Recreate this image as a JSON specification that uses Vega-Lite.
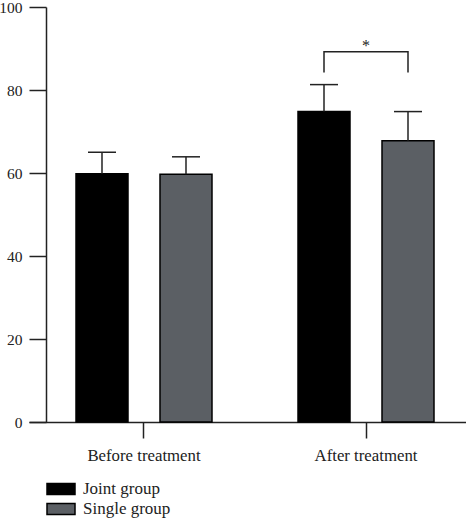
{
  "$schema": "https://vega.github.io/schema/vega-lite/v6.json",
  "width": 437,
  "height": 415,
  "autosize": {"type": "none"},
  "padding": {"left": 29, "top": 7, "right": 0, "bottom": 96},
  "background": "white",
  "config": {
    "view": {"stroke": null},
    "font": "Liberation Serif",
    "axis": {
      "domainColor": "#222",
      "tickColor": "#222",
      "domainWidth": 1.5,
      "tickWidth": 1.5,
      "labelColor": "#222",
      "labelFont": "Liberation Serif",
      "grid": false,
      "title": null
    }
  },
  "datasets": {
    "bars": [
      {"Period": "Before treatment", "Group": "Joint group", "value": 59.8, "upper": 65.0},
      {"Period": "Before treatment", "Group": "Single group", "value": 59.7, "upper": 63.9},
      {"Period": "After treatment", "Group": "Joint group", "value": 74.8, "upper": 81.3},
      {"Period": "After treatment", "Group": "Single group", "value": 67.8, "upper": 74.8}
    ],
    "bracket": [
      {"Period": "After treatment", "Group": "Joint group", "y": 84.2, "o": 1},
      {"Period": "After treatment", "Group": "Joint group", "y": 89.2, "o": 2},
      {"Period": "After treatment", "Group": "Single group", "y": 89.2, "o": 3},
      {"Period": "After treatment", "Group": "Single group", "y": 84.2, "o": 4}
    ],
    "star": [
      {"Period": "After treatment", "y": 89.2, "label": "*"}
    ]
  },
  "encoding": {
    "x": {
      "field": "Period",
      "type": "nominal",
      "sort": ["Before treatment", "After treatment"],
      "scale": {"range": [0, 452], "paddingInner": 0, "paddingOuter": 0.018},
      "axis": {"labelAngle": 0, "tickSize": 16, "labelPadding": 9, "labelFontSize": 16.8}
    }
  },
  "layer": [
    {
      "data": {"name": "bars"},
      "mark": {"type": "bar", "stroke": "#000", "strokeWidth": 1.5},
      "encoding": {
        "xOffset": {"field": "Group", "type": "nominal", "sort": ["Joint group", "Single group"], "scale": {"paddingInner": 0.381, "paddingOuter": 0.512}},
        "y": {
          "field": "value",
          "type": "quantitative",
          "scale": {"domain": [0, 100], "nice": false},
          "axis": {"values": [0, 20, 40, 60, 80, 100], "offset": -17, "tickSize": 17, "labelPadding": 7, "labelFontSize": 15.5}
        },
        "color": {
          "field": "Group",
          "type": "nominal",
          "scale": {"domain": ["Joint group", "Single group"], "range": ["#000000", "#5b5f64"]},
          "legend": {
            "title": null,
            "orient": "none",
            "legendX": 21,
            "legendY": 471,
            "padding": 0,
            "symbolType": "M-1.4,-0.55H1.4V0.55H-1.4Z",
            "symbolSize": 400,
            "symbolStrokeColor": "#000",
            "symbolStrokeWidth": 1.5,
            "symbolOpacity": 1,
            "labelFont": "Liberation Serif",
            "labelFontSize": 17,
            "labelColor": "#222",
            "labelOffset": 11,
            "rowPadding": 0
          }
        }
      }
    },
    {
      "data": {"name": "bars"},
      "mark": {"type": "rule", "color": "#222", "strokeWidth": 1.5},
      "encoding": {
        "xOffset": {"field": "Group", "type": "nominal", "sort": ["Joint group", "Single group"], "scale": {"paddingInner": 0.381, "paddingOuter": 0.512}},
        "y": {"field": "value", "type": "quantitative"},
        "y2": {"field": "upper"}
      }
    },
    {
      "data": {"name": "bars"},
      "mark": {"type": "tick", "color": "#222", "thickness": 1.5, "size": 28, "opacity": 1},
      "encoding": {
        "xOffset": {"field": "Group", "type": "nominal", "sort": ["Joint group", "Single group"], "scale": {"paddingInner": 0.381, "paddingOuter": 0.512}},
        "y": {"field": "upper", "type": "quantitative"}
      }
    },
    {
      "data": {"name": "bracket"},
      "mark": {"type": "line", "color": "#222", "strokeWidth": 1.5},
      "encoding": {
        "xOffset": {"field": "Group", "type": "nominal", "sort": ["Joint group", "Single group"], "scale": {"paddingInner": 0.381, "paddingOuter": 0.512}},
        "y": {"field": "y", "type": "quantitative"},
        "order": {"field": "o", "type": "quantitative"}
      }
    },
    {
      "data": {"name": "star"},
      "mark": {"type": "text", "font": "Liberation Serif", "fontSize": 16, "fill": "#222", "baseline": "alphabetic", "dy": -1},
      "encoding": {
        "y": {"field": "y", "type": "quantitative"},
        "text": {"field": "label"}
      }
    }
  ]
}
